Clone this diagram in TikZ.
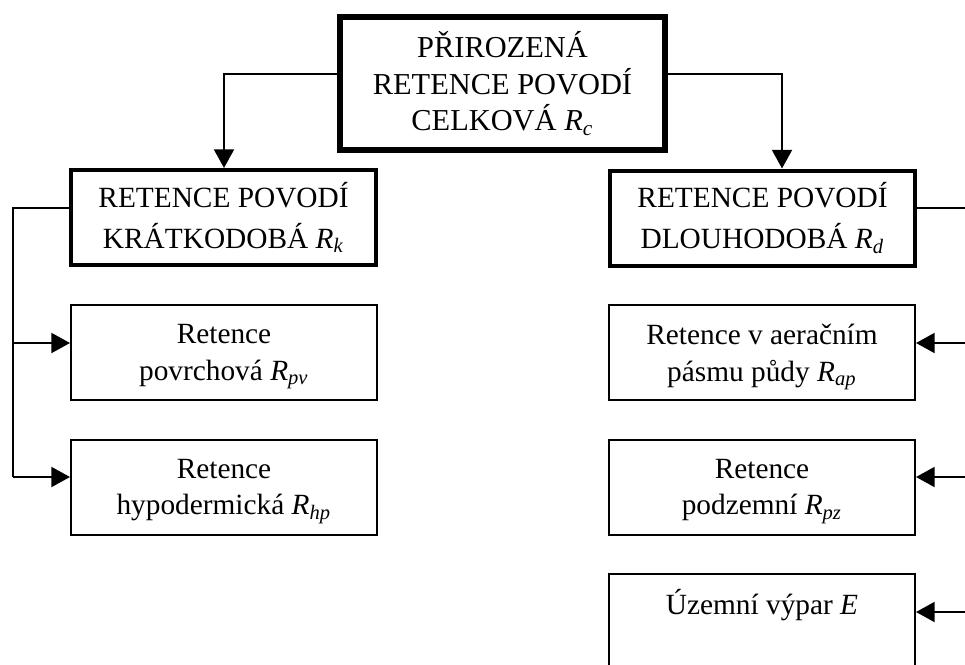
\documentclass[tikz,border=0pt]{standalone}
\usepackage{fontspec}
\setmainfont{Liberation Serif}
\usetikzlibrary{arrows.meta}
\begin{document}
\begin{tikzpicture}[x=0.375pt,y=-0.375pt,
  every node/.style={inner sep=0pt,align=center,font=\fontsize{11}{13.75}\selectfont},
  topbox/.style={draw,line width=2.25pt,minimum width={325*0.375pt},minimum height={133*0.375pt},font=\fontsize{11.4}{13.7}\selectfont},
  midbox/.style={draw,line width=1.5pt,minimum width={305*0.375pt},minimum height={95*0.375pt},font=\fontsize{11}{15.3}\selectfont},
  smallbox/.style={draw,line width=0.75pt,minimum width={306*0.375pt},minimum height={95*0.375pt},text depth=0pt},
  conn/.style={line width=0.75pt,-{Triangle[width=7.5pt,length=7pt]}},
  plain/.style={line width=0.75pt}]
\useasboundingbox (0,0) rectangle (965,664);
\node[topbox] (top) at (502.5,83.5) {PŘIROZENÁ\\RETENCE POVODÍ\\CELKOVÁ \textit{R\textsubscript{c}}};
\node[midbox] (rk) at (223.5,217.5) {RETENCE POVODÍ\\ KRÁTKODOBÁ \textit{R\textsubscript{k}}};
\node[midbox] (rd) at (762.5,218) {RETENCE POVODÍ\\ DLOUHODOBÁ \textit{R\textsubscript{d}}};
\node[smallbox] (pv) at (224,352.5) {Retence\\povrchová \textit{R\textsubscript{pv}}};
\node[smallbox] (hp) at (224,487) {Retence\\hypodermická \textit{R\textsubscript{hp}}};
\node[smallbox] (ap) at (762,352.5) {Retence v aeračním\\pásmu půdy \textit{R\textsubscript{ap}}};
\node[smallbox] (pz) at (762,487) {Retence\\podzemní \textit{R\textsubscript{pz}}};
\node[smallbox] (e) at (762,621.5) {};
\node (et) at (762,605) {Územní výpar \textit{E}};
% top connectors
\coordinate (jl) at (224,74);
\coordinate (jr) at (782,74);
\draw[conn] (top.west |- jl) -- (jl) -- (jl |- rk.north);
\draw[conn] (top.east |- jr) -- (jr) -- (jr |- rd.north);
% left bracket
\coordinate (bl) at (13,208);
\coordinate (bl2) at (13,343);
\coordinate (bl3) at (13,477);
\draw[plain] (rk.west |- bl) -- (bl) -- (bl3);
\draw[conn] (bl2) -- (bl2 -| pv.west);
\draw[conn] (bl3) -- (bl3 -| hp.west);
% right bracket
\coordinate (br) at (970,208);
\coordinate (br2) at (970,343);
\coordinate (br3) at (970,477);
\coordinate (br4) at (970,612);
\draw[plain] (rd.east |- br) -- (br) -- (br4);
\draw[conn] (br2) -- (br2 -| ap.east);
\draw[conn] (br3) -- (br3 -| pz.east);
\draw[conn] (br4) -- (br4 -| e.east);
\end{tikzpicture}
\end{document}
